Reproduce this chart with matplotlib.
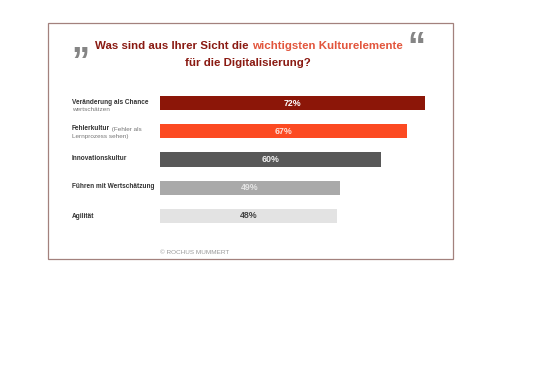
import matplotlib
matplotlib.use("Agg")
import matplotlib.pyplot as plt
from matplotlib.patches import Rectangle

plt.rcParams['font.family'] = ['Liberation Sans', 'DejaVu Sans']

categories_bold = ["Veränderung als Chance", "Fehlerkultur", "Innovationskultur",
                   "Führen mit Wertschätzung", "Agilität"]
categories_line1_rest = ["", " (Fehler als", "", "", ""]
categories_line2 = ["wertschätzen", "Lernprozess sehen)", "", "", ""]
values = [72, 67, 60, 49, 48]
value_labels = ["72%", "67%", "60%", "49%", "48%"]
bar_colors = ["#8c1608", "#fc4a22", "#585858", "#a9a9a9", "#e3e3e3"]
label_colors = ["white", "#ffe0d8", "#f0f0f0", "#e4e4e4", "#444444"]

W, H = 540, 382
fig = plt.figure(figsize=(W/100, H/100), dpi=100)
fig.patch.set_facecolor("white")

# frame
fig.add_artist(Rectangle((48/W, 1-259/H), (453-48)/W, (259-23)/H,
                         transform=fig.transFigure, fill=False,
                         edgecolor="#a3817d", linewidth=0.9))

# axes for bars: x=0 at px 160, 100% at 528 px
ax = fig.add_axes([160/W, 1-230/H, (528-160)/W, (230-89)/H])
ax.set_xlim(0, 100)
ax.set_ylim(4.5, -0.5)
ys = list(range(len(values)))
ax.barh(ys, values, height=0.5, color=bar_colors)
for y, v, lab, c in zip(ys, values, value_labels, label_colors):
    ax.text(v/2, y, lab, ha="center", va="center", color=c,
            fontsize=6.4, fontweight="bold")
ax.axis("off")

# category labels
lab_y = [103, 131, 159, 187, 216]
fig.canvas.draw()
r = fig.canvas.get_renderer()
fs_b, fs_n = 4.7, 4.6
for yb, b, rest1, l2 in zip(lab_y, categories_bold, categories_line1_rest, categories_line2):
    if l2:
        y1 = yb - 2 if rest1 else yb - 1
        t = fig.text(72/W, 1-y1/H, b, fontsize=fs_b, fontweight="bold",
                     color="#333333", va="center")
        if rest1:
            bb = t.get_window_extent(r)
            fig.text(bb.x1/W, 1-y1/H, rest1, fontsize=fs_n,
                     color="#777777", va="center")
        fig.text(72/W, 1-(y1+7.5)/H, l2, fontsize=fs_n, color="#777777",
                 va="center")
    else:
        fig.text(72/W, 1-yb/H, b, fontsize=fs_b, fontweight="bold",
                 color="#333333", va="center")

# title with two colours
fs_t = 8.25
parts = [("Was sind aus Ihrer Sicht die ", "#8a1a12"),
         ("wichtigsten Kulturelemente", "#e2553c")]
x = 95
for txt, col in parts:
    t = fig.text(x/W, 1-46/H, txt, fontsize=fs_t, fontweight="bold",
                 color=col, va="center", ha="left")
    x = t.get_window_extent(r).x1
fig.text(248/W, 1-63/H, "für die Digitalisierung?", fontsize=fs_t,
         fontweight="bold", color="#8a1a12", va="center", ha="center")

# quote marks
fig.text(80/W, 1-46/H, "\u201d", fontsize=26, fontweight="bold",
         color="#858585", ha="center", va="top")
fig.text(416/W, 1-31/H, "\u201c", fontsize=26, fontweight="bold",
         color="#858585", ha="center", va="top")

# footer
fig.text(160/W, 1-253/H, "© ROCHUS MUMMERT", fontsize=4.6, color="#9a9a9a",
         va="center")

fig.savefig("out.png", dpi=100)
